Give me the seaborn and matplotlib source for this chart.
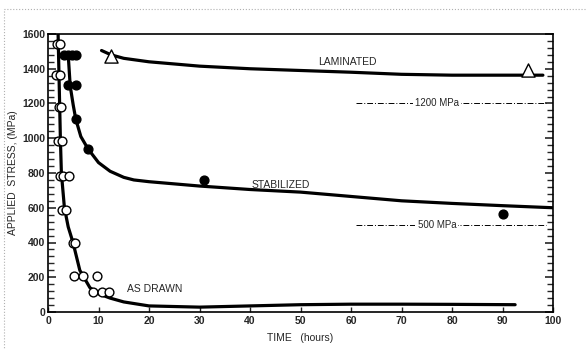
import matplotlib
matplotlib.use("Agg")
import matplotlib.pyplot as plt
import matplotlib.patches as patches
from matplotlib.ticker import MultipleLocator
import seaborn as sns
import pandas as pd

# curves
drawn_x = [2.0, 2.3, 2.45, 2.65, 3.25, 4.0, 4.95, 6.3, 8.3, 10.0, 12.3, 15.0, 20.0, 30.0, 40.0, 50.0, 60.0, 70.0, 80.0, 92.5]
drawn_y = [1600, 1200, 1000, 800, 600, 490, 400, 240, 140, 105, 80, 58, 35, 28, 35, 42, 45, 45, 44, 42]

stab_x = [4.0, 4.4, 5.0, 5.5, 6.5, 7.9, 10.0, 12.3, 15.0, 17.0, 20.0, 30.0, 40.0, 50.0, 60.0, 70.0, 80.0, 90.0, 100.0]
stab_y = [1480, 1300, 1190, 1110, 1010, 940, 860, 810, 775, 760, 750, 725, 705, 690, 665, 640, 625, 612, 600]

lam_x = [10.6, 12.5, 15.0, 20.0, 30.0, 40.0, 50.0, 60.0, 70.0, 80.0, 90.0, 98.0]
lam_y = [1505, 1480, 1460, 1440, 1415, 1400, 1390, 1380, 1368, 1363, 1363, 1363]

# data points
open_x = [1.7, 2.3, 1.6, 2.3, 2.2, 2.5, 2.0, 2.7, 2.3, 2.9, 4.1, 2.8, 3.6, 4.9, 5.4, 5.1, 7.0, 9.8, 8.9, 10.6, 12.1]
open_y = [1545, 1545, 1365, 1365, 1180, 1180, 985, 985, 785, 785, 785, 585, 585, 395, 395, 205, 205, 205, 115, 115, 115]

filled_x = [3.1, 3.9, 4.8, 5.6, 4.0, 5.5, 5.5, 7.9, 30.8, 90.0]
filled_y = [1480, 1480, 1480, 1480, 1305, 1305, 1110, 940, 760, 565]

tri_x = [12.5, 95.0]
tri_y = [1475, 1395]

# reference stress levels
ref_levels = [1200, 500]
ref_labels = ["1200 MPa", "500 MPa"]
ref_span = (61.0, 98.7)

curve_labels = ["LAMINATED", "STABILIZED", "AS DRAWN"]
curve_label_pos = [(59.3, 1440), (46.1, 730), (21.1, 135)]

sns.set_style("ticks")
plt.rcParams["font.family"] = ["Liberation Sans", "DejaVu Sans"]

fig = plt.figure(figsize=(5.87, 3.49), dpi=100)
ax = fig.add_axes([48 / 587, 1 - 312 / 349, 505 / 587, 278 / 349])

for xs, ys in [(drawn_x, drawn_y), (stab_x, stab_y), (lam_x, lam_y)]:
    df = pd.DataFrame({"t": xs, "s": ys})
    sns.lineplot(data=df, x="t", y="s", ax=ax, color="black", lw=2.3,
                 sort=False, estimator=None)

sns.scatterplot(x=open_x, y=open_y, ax=ax, marker="o", s=40, facecolor="white",
                edgecolor="black", linewidth=1.0, zorder=3)
sns.scatterplot(x=filled_x, y=filled_y, ax=ax, marker="o", s=40, color="black",
                edgecolor="black", linewidth=1.0, zorder=3)
sns.scatterplot(x=tri_x, y=tri_y, ax=ax, marker="^", s=90, facecolor="white",
                edgecolor="black", linewidth=1.0, zorder=3)

for lvl, lab in zip(ref_levels, ref_labels):
    ax.hlines(lvl, ref_span[0], ref_span[1], colors="black", lw=0.7,
              linestyles=(0, (6, 2, 1, 2)))
    ax.text(77.0, lvl, lab, fontsize=7, ha="center", va="center",
            bbox=dict(facecolor="white", edgecolor="none", pad=1.5))

for lab, (tx, ty) in zip(curve_labels, curve_label_pos):
    ax.text(tx, ty, lab, fontsize=7.5, ha="center", va="center")

ax.set_xlim(0, 100)
ax.set_ylim(0, 1600)
ax.xaxis.set_major_locator(MultipleLocator(10))
ax.yaxis.set_major_locator(MultipleLocator(200))
ax.yaxis.set_minor_locator(MultipleLocator(40))

ax.tick_params(axis="x", which="major", direction="in", length=3.6, width=1.0,
               labelsize=7.5, pad=3, top=False)
ax.tick_params(axis="y", which="major", direction="in", length=5.5, width=1.2,
               labelsize=7.5, pad=2, left=True, right=True)
ax.tick_params(axis="y", which="minor", direction="in", length=4.5, width=1.0,
               left=True, right=True)
ax.tick_params(axis="x", which="minor", bottom=False, top=False)
for t in ax.get_xticklabels() + ax.get_yticklabels():
    t.set_fontweight("bold")

for sp in ax.spines.values():
    sp.set_visible(True)
    sp.set_linewidth(1.2)
    sp.set_color("black")

ax.set_xlabel("TIME   (hours)", fontsize=7.5, labelpad=5)
ax.set_ylabel("APPLIED  STRESS, (MPa)", fontsize=7.5, labelpad=3)

# faint dotted frame of the original page
fig.patches.append(patches.Rectangle((4 / 587, -0.1), 1.2, (349 - 9) / 349 + 0.1,
                                     transform=fig.transFigure, fill=False,
                                     ls=":", lw=0.8, edgecolor="#b0b0b0"))

fig.savefig("out.png", dpi=100)
